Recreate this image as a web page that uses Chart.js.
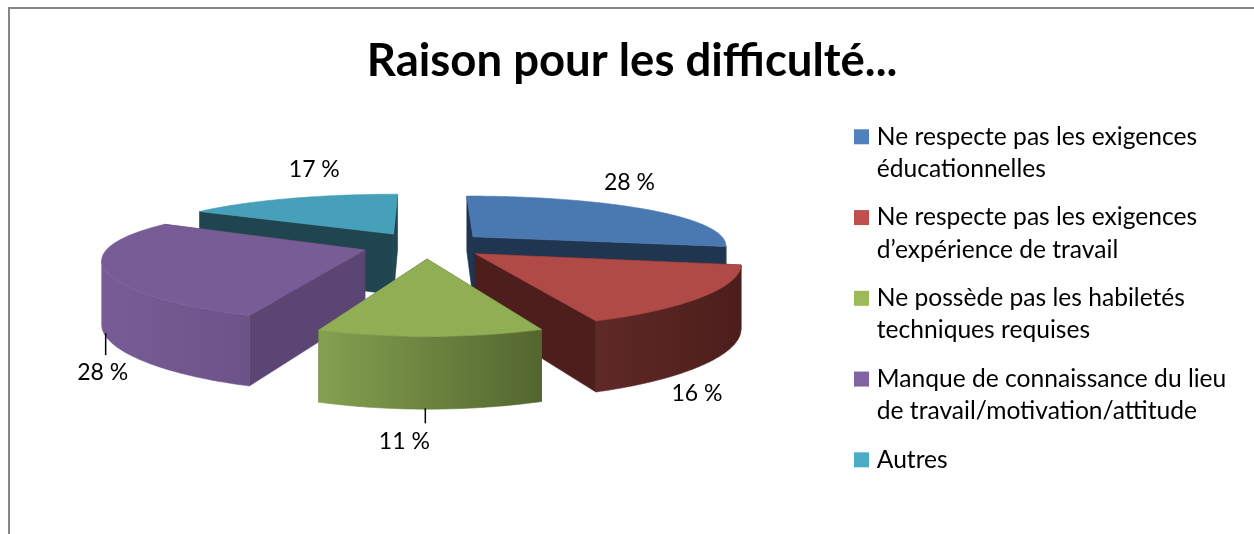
<!DOCTYPE html>
<html><head><meta charset="utf-8">
<style>html,body{margin:0;padding:0;background:#fff}canvas{display:block}</style>
<script src="https://cdn.jsdelivr.net/npm/chart.js@4"></script>
</head><body><canvas id="c" width="1254" height="534"></canvas>
<script>
const chartTitle = "Raison pour les difficulté...";
const categories = [
  ["Ne respecte pas les exigences","éducationnelles"],
  ["Ne respecte pas les exigences","d’expérience de travail"],
  ["Ne possède pas les habiletés","techniques requises"],
  ["Manque de connaissance du lieu","de travail/motivation/attitude"],
  "Autres"
];
const values = [28,16,11,28,17];
const legendColors = ["#4f81bd","#c0504d","#9bbb59","#8064a2","#4bacc6"];
const topColors = ["#4a79b2","#b04a47","#90af54","#785c95","#46a0b9"];
const faceColors = ["#1f3550","#4e1e1c","#4f6330","#5b4572","#1e4550"];
const wallStart = ["#1f3550","#5f2926","#84a04f","#785c97","#1e4550"];
const wallEnd = ["#1f3550","#4c1e1b","#536630","#6c5387","#1e4550"];
const drawOrder = [4,0,3,1,2];
const labelDelta = [[-15,-26],[-7,97],[-33,105],[-4,100],[29,-29]];
const leaders = [null,null,[-12,72,87],[-1,61,83],null];
const edgeNudgeDeg = [[0,0],[0,0],[0,2.5],[2.5,2.5],[2.5,0]];

const RX=255, KY=53, PX=.15, PY=.22, OFF=.25, DEPTH=62;

function project(arc,theta,rho,z){
  const mid=(arc.startAngle+arc.endAngle)/2+Math.PI/2;
  const a=OFF*Math.sin(mid)+rho*Math.sin(theta);
  const b=-OFF*Math.cos(mid)-rho*Math.cos(theta);
  const sx=1/(1-PX*b), sy=1/(1-PY*b);
  return {x:arc.x+a*RX*sx, y:arc.y+b*KY*sy+z*DEPTH*Math.sqrt(sy)};
}
function poly(ctx,pts,fill){
  ctx.beginPath();
  pts.forEach((p,i)=>i?ctx.lineTo(p.x,p.y):ctx.moveTo(p.x,p.y));
  ctx.closePath();
  ctx.fillStyle=fill; ctx.fill();
  ctx.strokeStyle=fill; ctx.lineWidth=.6; ctx.stroke();
}
function drawSlice(ctx,arc,i){
  const t0=arc.startAngle+Math.PI/2+edgeNudgeDeg[i][0]*Math.PI/180;
  const t1=arc.endAngle+Math.PI/2+edgeNudgeDeg[i][1]*Math.PI/180;
  const n=Math.max(8,Math.round((t1-t0)*60));
  const rim=[],low=[];
  for(let k=0;k<=n;k++){
    const t=t0+(t1-t0)*k/n;
    rim.push(project(arc,t,1,0)); low.push(project(arc,t,1,1));
  }
  const c=project(arc,0,0,0), cl=project(arc,0,0,1);
  poly(ctx,[c,rim[0],low[0],cl],faceColors[i]);
  poly(ctx,[c,rim[n],low[n],cl],faceColors[i]);
  const fr=[],fl=[];
  for(let k=0;k<=n;k++){
    const prev=k>0&&rim[k].x<rim[k-1].x, next=k<n&&rim[k+1].x<rim[k].x;
    if(prev||next){fr.push(rim[k]);fl.push(low[k]);}
  }
  if(fr.length>1){
    const xs=fr.map(p=>p.x), g=ctx.createLinearGradient(Math.min(...xs),0,Math.max(...xs),0);
    g.addColorStop(0,wallStart[i]); g.addColorStop(1,wallEnd[i]);
    poly(ctx,fr.concat(fl.slice().reverse()),g);
  }
  poly(ctx,[c].concat(rim),topColors[i]);
}
const pie3d={
  id:'pie3d',
  afterLayout(chart){
    const a=chart.chartArea; a.left=10;a.right=840;a.width=830;a.top=125;a.bottom=365;a.height=240;
    const lg=chart.legend;
    lg.left=842;lg.right=1254;lg.width=412;lg.top=108;lg.bottom=534;lg.height=426;
  },
  beforeDraw(chart){
    const ctx=chart.ctx;
    ctx.save();ctx.strokeStyle='#868686';ctx.lineWidth=2;
    ctx.beginPath();ctx.moveTo(9,534);ctx.lineTo(9,8);ctx.lineTo(1254,8);ctx.stroke();ctx.restore();
  },
  beforeDatasetsDraw(chart){
    const ctx=chart.ctx, arcs=chart.getDatasetMeta(0).data;
    ctx.save();
    drawOrder.forEach(i=>drawSlice(ctx,arcs[i],i));
    ctx.fillStyle='#000';ctx.strokeStyle='#000';ctx.lineWidth=1.5;
    ctx.font='23px Lato';ctx.textAlign='center';ctx.textBaseline='middle';
    arcs.forEach((arc,i)=>{
      const mid=(arc.startAngle+arc.endAngle)/2+Math.PI/2;
      const p=project(arc,mid,1,0);
      ctx.fillText(values[i]+' %',p.x+labelDelta[i][0],p.y+labelDelta[i][1]);
      if(leaders[i]){
        ctx.beginPath();
        ctx.moveTo(p.x+leaders[i][0],p.y+leaders[i][1]);
        ctx.lineTo(p.x+leaders[i][0],p.y+leaders[i][2]);
        ctx.stroke();
      }
    });
    ctx.restore();
    return false;
  }
};
new Chart(document.getElementById('c'),{
  type:'pie',
  data:{labels:categories,datasets:[{data:values,backgroundColor:legendColors,borderColor:legendColors,borderWidth:9}]},
  options:{
    responsive:false,animation:false,
    layout:{padding:{left:10,right:0,top:34,bottom:0}},
    plugins:{
      title:{display:true,text:chartTitle,color:'#000',font:{family:'Lato',size:45.5,weight:'bold'},padding:{top:0,bottom:30}},
      legend:{position:'right',align:'start',
        labels:{color:'#000',boxWidth:6,boxHeight:6,padding:16.5,font:{family:'Lato',size:24.6,lineHeight:1.306}}},
      tooltip:{enabled:false}
    }
  },
  plugins:[pie3d]
});
</script></body></html>
